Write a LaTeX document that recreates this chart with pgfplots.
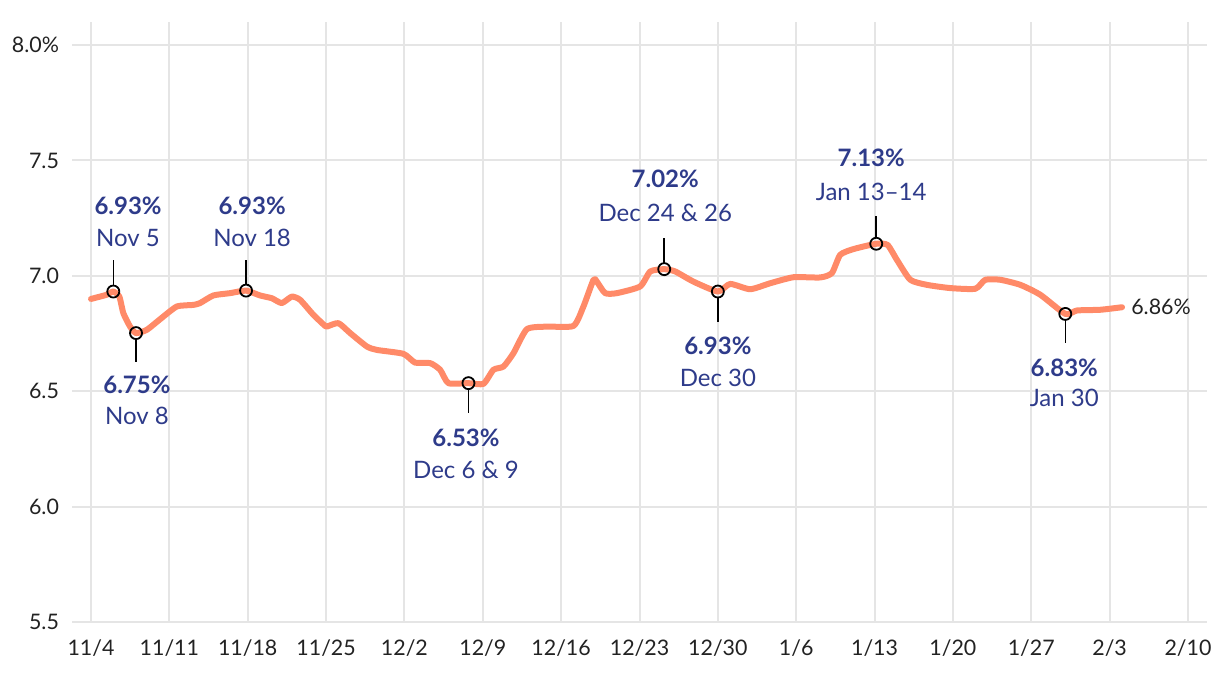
\documentclass[border=0pt]{standalone}
\usepackage{pgfplots}
\pgfplotsset{compat=1.18}
\usepackage{fontspec}
\setmainfont{Lato}
\definecolor{rate}{RGB}{255,138,104}
\definecolor{note}{RGB}{46,59,138}
\definecolor{gridc}{RGB}{229,229,229}
\definecolor{tickc}{RGB}{34,34,34}
\newcommand{\val}[1]{{\fontsize{12}{14}\selectfont\bfseries #1}}
\newcommand{\dt}[1]{{\fontsize{12}{14}\selectfont #1}}

\begin{document}
\begin{tikzpicture}
\path[use as bounding box] (-36pt,-26pt) rectangle (574pt,311pt);
\begin{axis}[
  at={(0,0)}, anchor=south west,
  scale only axis, width=567.5pt, height=300pt,
  xmin=-1.7, xmax=99.7, ymin=5.5, ymax=8.1,
  xtick={0,7,...,98},
  xticklabels={11/4,11/11,11/18,11/25,12/2,12/9,12/16,12/23,12/30,1/6,1/13,1/20,1/27,2/3,2/10},
  ytick={5.5,6,6.5,7,7.5,8},
  yticklabels={5.5,6.0,6.5,7.0,7.5,8.0\%},
  grid=major, major grid style={gridc, line width=1pt},
  axis line style={draw=none}, major tick length=0pt,
  tick label style={font=\fontsize{10.7}{12}\selectfont, text=tickc},
  /pgf/number format/assume math mode=true,
  yticklabel style={xshift=-3pt},
  xticklabel style={yshift=-5.5pt},
  clip=false,
]
% 30-year fixed rate, day 0 = 11/4
\addplot[rate, line width=3pt, line join=round, line cap=round, smooth, tension=0.35] coordinates {
  (0,6.900) (1.40,6.918) (1.99,6.932) (2.53,6.910) (2.89,6.838) (3.49,6.780)
  (4.02,6.752) (4.98,6.766) (6.17,6.812) (7.66,6.867) (9.14,6.874) (9.74,6.882)
  (10.93,6.915) (12.42,6.925) (13.85,6.936) (15.1,6.915) (16.15,6.903) (17.04,6.882)
  (17.94,6.910) (18.68,6.896) (19.87,6.831) (20.91,6.783) (21.06,6.780) (22.1,6.795)
  (23.15,6.752) (24.64,6.694) (25.53,6.679) (27.91,6.662) (28.95,6.624) (30.29,6.622)
  (31.19,6.593) (31.93,6.535) (33.72,6.535) (35.06,6.532) (35.95,6.593) (36.85,6.607)
  (37.74,6.665) (38.94,6.769) (40.72,6.780) (43.1,6.783) (43.99,6.867) (44.89,6.983)
  (45.19,6.975) (45.93,6.925) (46.98,6.925) (49.06,6.954) (49.96,7.019) (51.21,7.029)
  (52.19,7.019) (53.82,6.975) (56.0,6.932) (57.1,6.965) (58.89,6.942) (60.68,6.968)
  (62.76,6.994) (65.15,6.993) (66.19,7.012) (66.93,7.091) (68.12,7.116) (70.15,7.139)
  (71.16,7.134) (72.0,7.069) (73.19,6.983) (74.68,6.961) (76.76,6.947) (79.0,6.944)
  (79.89,6.983) (81.23,6.983) (83.02,6.961) (84.81,6.918) (87.04,6.835) (88.09,6.850)
  (90.17,6.853) (92.11,6.864)
};
% leader lines
\draw[black, line width=0.75pt, shorten <=3pt] (axis cs:1.99,6.932) -- (axis cs:1.99,7.069);
\draw[black, line width=0.75pt, shorten <=3pt] (axis cs:13.85,6.936) -- (axis cs:13.85,7.069);
\draw[black, line width=0.75pt, shorten <=3pt] (axis cs:4.02,6.752) -- (axis cs:4.02,6.627);
\draw[black, line width=0.75pt, shorten <=3pt] (axis cs:33.72,6.535) -- (axis cs:33.72,6.406);
\draw[black, line width=0.75pt, shorten <=3pt] (axis cs:51.21,7.029) -- (axis cs:51.21,7.165);
\draw[black, line width=0.75pt, shorten <=3pt] (axis cs:56.0,6.932) -- (axis cs:56.0,6.802);
\draw[black, line width=0.75pt, shorten <=3pt] (axis cs:70.15,7.139) -- (axis cs:70.15,7.260);
\draw[black, line width=0.75pt, shorten <=3pt] (axis cs:87.04,6.835) -- (axis cs:87.04,6.710);
% highlighted points
\addplot[only marks, mark=o, mark size=3pt, mark options={black, line width=0.9pt}] coordinates {
  (1.99,6.932) (4.02,6.752) (13.85,6.936) (33.72,6.535)
  (51.21,7.029) (56.0,6.932) (70.15,7.139) (87.04,6.835)
};
% labels
\node[note] at (axis cs:3.31,7.303) {\val{6.93\%}};
\node[note] at (axis cs:3.31,7.165) {\dt{Nov 5}};
\node[note] at (axis cs:14.39,7.303) {\val{6.93\%}};
\node[note] at (axis cs:14.39,7.165) {\dt{Nov 18}};
\node[note] at (axis cs:4.1,6.528) {\val{6.75\%}};
\node[note] at (axis cs:4.1,6.393) {\dt{Nov 8}};
\node[note] at (axis cs:33.5,6.298) {\val{6.53\%}};
\node[note] at (axis cs:33.5,6.159) {\dt{Dec 6 \& 9}};
\node[note] at (axis cs:51.3,7.420) {\val{7.02\%}};
\node[note] at (axis cs:51.3,7.273) {\dt{Dec 24 \& 26}};
\node[note] at (axis cs:56.0,6.697) {\val{6.93\%}};
\node[note] at (axis cs:56.0,6.558) {\dt{Dec 30}};
\node[note] at (axis cs:69.7,7.511) {\val{7.13\%}};
\node[note] at (axis cs:69.7,7.365) {\dt{Jan 13–14}};
\node[note] at (axis cs:86.95,6.601) {\val{6.83\%}};
\node[note] at (axis cs:86.95,6.471) {\dt{Jan 30}};
\node[tickc, anchor=west, inner sep=0pt, font=\fontsize{10.7}{12}\selectfont] at (axis cs:92.9,6.864) {6.86\%};
\end{axis}
\end{tikzpicture}
\end{document}
